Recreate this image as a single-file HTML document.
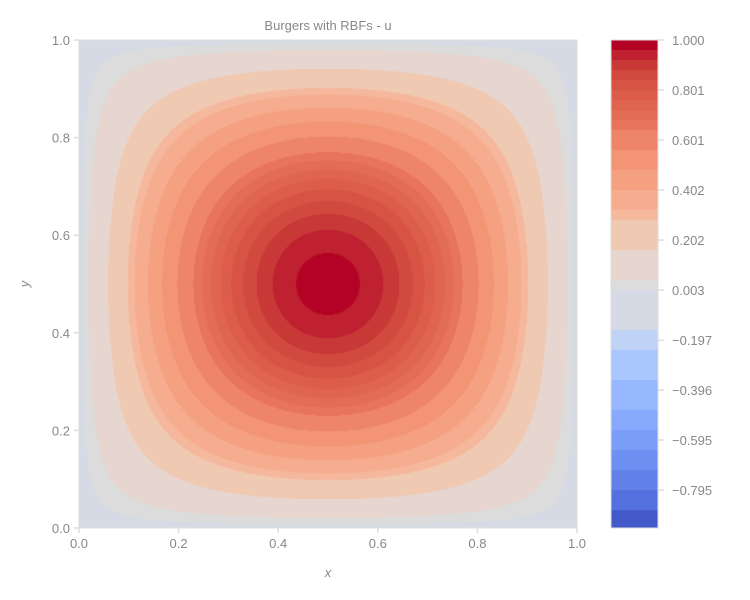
<!DOCTYPE html>
<html><head><meta charset="utf-8"><style>
body{margin:0;background:#fff;font-family:"Liberation Sans",sans-serif;}
#wrap{position:relative;width:750px;height:600px;}
svg text{font-family:"Liberation Sans",sans-serif;fill:#888;font-size:13px;}
canvas{position:absolute;left:79px;top:40px;}
</style></head><body>
<div id="wrap">
<canvas id="cv" width="498" height="488"></canvas>
<svg id="sv" width="750" height="600" style="position:absolute;left:0;top:0"></svg>
</div>
<script>
// contour level boundaries (descending) and fill colors of each band
const levels=[1.0,0.96,0.92,0.88,0.84,0.80,0.76,0.72,0.68,0.641,0.562,0.482,0.402,0.323,0.283,0.163,0.043,0.003,-0.157,-0.236,-0.356,-0.475,-0.555,-0.635,-0.715,-0.795,-0.875,-0.946];
const bandColors=["#b40426","#bf2130","#c83836","#d1493f","#d75445","#dc5d4a","#e0654f","#e36c55","#e7745b","#ee8468","#f39475","#f5a081","#f6ac8e","#f5b89d","#f0c9b3","#e6d6cf","#dcdcdc","#d6dae4","#bfd3f6","#aac7fd","#97b8ff","#86a9fc","#7b9ff9","#6e90f2","#6282ea","#5470de","#4358c9"];
const cbTicks=[1.0,0.801,0.601,0.402,0.202,0.003,-0.197,-0.396,-0.595,-0.795];
const cbTickLabels=["1.000","0.801","0.601","0.402","0.202","0.003","\u22120.197","\u22120.396","\u22120.595","\u22120.795"];
const xTicks=[0,0.2,0.4,0.6,0.8,1.0];
const yTicks=[0,0.2,0.4,0.6,0.8,1.0];
const peak=1.0, offset=0.02;

const PL=79,PR=577,PT=40,PB=528;
const sx=v=>PL+v*(PR-PL), sy=v=>PB-v*(PB-PT);
const CB={x:611,w:47,top:40,bot:528};
const cy=v=>CB.top+(levels[0]-v)/(levels[0]-levels[levels.length-1])*(CB.bot-CB.top);

function field(x,y){return peak*Math.sin(Math.PI*x)*Math.sin(Math.PI*y)-offset;}
const cv=document.getElementById('cv'),ctx=cv.getContext('2d');
const W=cv.width,H=cv.height,img=ctx.createImageData(W,H);
const rgb=bandColors.map(c=>[1,3,5].map(i=>parseInt(c.substr(i,2),16)));
for(let py=0;py<H;py++)for(let px=0;px<W;px++){
  const v=field((px+0.5)/W,1-(py+0.5)/H);
  let b=levels.length-2;
  for(let i=0;i<levels.length-1;i++){if(v>=levels[i+1]){b=i;break;}}
  const c=rgb[b],k=(py*W+px)*4;
  img.data[k]=c[0];img.data[k+1]=c[1];img.data[k+2]=c[2];img.data[k+3]=255;
}
ctx.putImageData(img,0,0);

const NS="http://www.w3.org/2000/svg",sv=document.getElementById('sv');
function mk(t,a,p){const e=document.createElementNS(NS,t);for(const k in a)e.setAttribute(k,a[k]);(p||sv).appendChild(e);return e;}
let fr=mk('rect',{x:PL,y:PT,width:PR-PL,height:PB-PT,fill:'none',stroke:'#ddd','stroke-width':1});


xTicks.forEach(t=>{
  const l=mk('line',{x1:sx(t),x2:sx(t),y1:PB,y2:PB+5,stroke:'#ddd','stroke-width':1.5});
  
  
  const tx=mk('text',{x:sx(t),y:PB+20,'text-anchor':'middle'});tx.textContent=t.toFixed(1);
  
  
});
yTicks.forEach(t=>{
  const l=mk('line',{x1:PL-5,x2:PL,y1:sy(t),y2:sy(t),stroke:'#ddd','stroke-width':1.5});
  
  
  const tx=mk('text',{x:PL-9,y:sy(t)+5,'text-anchor':'end'});tx.textContent=t.toFixed(1);
  
  
});
bandColors.forEach((c,i)=>{
  const y1=cy(levels[i]),y2=cy(levels[i+1]);
  const r=mk('rect',{x:CB.x,y:y1,width:CB.w,height:y2-y1+0.5,fill:c});
  
  
});
let cf=mk('rect',{x:CB.x,y:CB.top,width:CB.w,height:CB.bot-CB.top,fill:'none',stroke:'#ddd','stroke-width':1});


cbTicks.forEach((t,i)=>{
  const y=cy(t);
  const l=mk('line',{x1:CB.x+CB.w,x2:CB.x+CB.w+6,y1:y,y2:y,stroke:'#ddd','stroke-width':1.5});
  
  
  const tx=mk('text',{x:CB.x+CB.w+14,y:y+5});tx.textContent=cbTickLabels[i];
  
  
});
let ti=mk('text',{x:(PL+PR)/2,y:30,'text-anchor':'middle','font-size':'14'});ti.textContent='Burgers with RBFs - u';


let xl=mk('text',{x:(PL+PR)/2,y:577,'text-anchor':'middle','font-style':'italic'});xl.textContent='x';


let yl=mk('text',{x:29,y:(PT+PB)/2,'text-anchor':'middle','font-style':'italic',transform:'rotate(-90 29 '+((PT+PB)/2)+')'});yl.textContent='y';


</script>
</body></html>
